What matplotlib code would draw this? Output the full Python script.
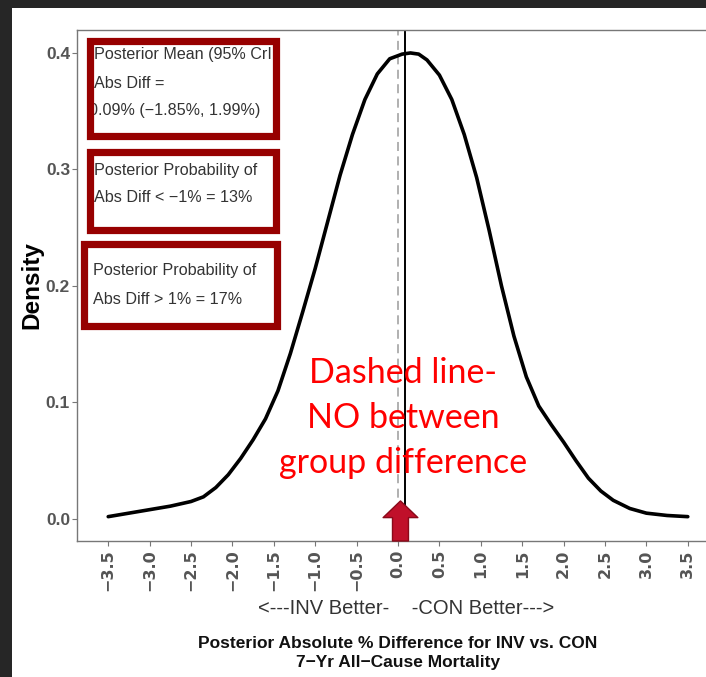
import numpy as np
import matplotlib.pyplot as plt
from matplotlib.patches import Rectangle, FancyArrowPatch

# density curve
diff_pct = [-3.5, -3.25, -3.0, -2.75, -2.5, -2.35, -2.2, -2.05, -1.9, -1.75, -1.6,
            -1.45, -1.3, -1.15, -1.0, -0.85, -0.7, -0.55, -0.4, -0.25, -0.1, 0.05,
            0.15, 0.25, 0.35, 0.5, 0.65, 0.8, 0.95, 1.1, 1.25, 1.4, 1.55, 1.7,
            1.85, 2.0, 2.15, 2.3, 2.45, 2.6, 2.8, 3.0, 3.25, 3.5]
density = [0.002, 0.005, 0.008, 0.011, 0.015, 0.019, 0.027, 0.038, 0.052, 0.068, 0.086,
           0.110, 0.142, 0.178, 0.215, 0.255, 0.295, 0.330, 0.360, 0.382, 0.395, 0.399,
           0.400, 0.399, 0.394, 0.381, 0.360, 0.330, 0.293, 0.248, 0.200, 0.157, 0.122, 0.097,
           0.081, 0.066, 0.050, 0.035, 0.024, 0.016, 0.009, 0.005, 0.003, 0.002]
no_diff = 0.0
post_mean = 0.09

x_ticks = [-3.5, -3.0, -2.5, -2.0, -1.5, -1.0, -0.5, 0.0, 0.5, 1.0, 1.5, 2.0, 2.5, 3.0, 3.5]
x_ticklabels = ['\u22123.5', '\u22123.0', '\u22122.5', '\u22122.0', '\u22121.5', '\u22121.0',
                '\u22120.5', '0.0', '0.5', '1.0', '1.5', '2.0', '2.5', '3.0', '3.5']
y_ticks = [0.0, 0.1, 0.2, 0.3, 0.4]
y_ticklabels = ['0.0', '0.1', '0.2', '0.3', '0.4']

box1 = ['Posterior Mean (95% CrI)', 'Abs Diff =', '0.09% (\u22121.85%, 1.99%)']
box2 = ['Posterior Probability of', 'Abs Diff < \u22121% = 13%']
box3 = ['Posterior Probability of', 'Abs Diff > 1% = 17%']

W, H = 706, 677
def fx(px):
    return px / W
def fy(py):
    return 1 - py / H

sans = ['Liberation Sans', 'DejaVu Sans']

fig = plt.figure(figsize=(7.06, 6.77), dpi=100, facecolor='#262626')
fig.add_artist(Rectangle((fx(12), 0), 1, fy(8), transform=fig.transFigure,
                         facecolor='white', edgecolor='none', zorder=-5))

ax = fig.add_axes([fx(77), fy(541), (719 - 77) / W, (541 - 30) / H])
ax.set_facecolor('white')
ax.plot(diff_pct, density, color='black', lw=2.6, solid_capstyle='round',
        solid_joinstyle='round', zorder=3)
ax.axvline(no_diff, color='#aaaaaa', lw=1.3, ls=(0, (5, 3)), zorder=2)
ax.axvline(post_mean, color='black', lw=1.4, zorder=2)

ax.set_xlim(-3.877, 3.877)
ax.set_ylim(-0.0189, 0.4197)
for s in ax.spines.values():
    s.set_color('#777777')
    s.set_linewidth(1.0)

ax.set_xticks(x_ticks)
ax.set_xticklabels(x_ticklabels, rotation=90, fontsize=11.5, fontweight='bold',
                   color='#555555', family='DejaVu Sans')
ax.set_yticks(y_ticks)
ax.set_yticklabels(y_ticklabels, fontsize=12.5, fontweight='bold',
                   color='#555555', family='Liberation Sans')
ax.tick_params(axis='x', length=3.5, color='#777777', pad=2.5)
ax.tick_params(axis='y', length=3.5, color='#777777', pad=1.5)

ax.set_ylabel('Density', fontsize=17.5, fontweight='bold', family='Liberation Sans',
              labelpad=2)

# red annotation and arrow
ax.text(0.06, 0.0867, 'Dashed line-\nNO between\ngroup difference', color='#ff0000',
        fontsize=24.5, family='Lato', ha='center', va='center', linespacing=1.5, zorder=4)
arrow = FancyArrowPatch((0.03, -0.0189), (0.03, 0.0155),
                        arrowstyle='simple,head_length=12,head_width=25,tail_width=11.5',
                        mutation_scale=1, shrinkA=0, shrinkB=0,
                        facecolor='#c0102a', edgecolor='#8a0a1a', lw=1, zorder=6, clip_on=False)
ax.add_patch(arrow)

# boxed notes
def note(lines, x0, y0, x1, y1, ys, xs):
    inner = Rectangle((fx(x0), fy(y1)), (x1 - x0 - 4) / W, (y1 - y0) / H,
                      transform=fig.transFigure)
    for t, yy, xx in zip(lines, ys, xs):
        txt = fig.text(fx(xx), fy(yy), t, fontsize=11.6, family=sans, color='#333333',
                       ha='left', va='center', zorder=4)
        txt.set_clip_path(inner)
    fig.add_artist(Rectangle((fx(x0), fy(y1)), (x1 - x0) / W, (y1 - y0) / H,
                             transform=fig.transFigure, fill=False,
                             edgecolor='#970000', lw=5.2, zorder=5))

note(box1, 90.5, 40.5, 275.5, 135.5, [55, 83, 110], [94, 94, 89])
note(box2, 90.5, 151.5, 275.5, 229.5, [170, 198], [94, 94])
note(box3, 83.5, 244.5, 276.5, 325.5, [271, 299], [93, 93])

fig.text(fx(406), fy(609), '<---INV Better-    -CON Better--->', fontsize=14.5,
         family=sans, color='#333333', ha='center', va='center')
fig.text(fx(398), fy(643), 'Posterior Absolute % Difference for INV vs. CON', fontsize=12.5,
         family=sans, fontweight='bold', color='#111111', ha='center', va='center')
fig.text(fx(398), fy(663), '7\u2212Yr All\u2212Cause Mortality', fontsize=12.5,
         family=sans, fontweight='bold', color='#111111', ha='center', va='center')

fig.savefig('out.png', dpi=100, facecolor=fig.get_facecolor())
